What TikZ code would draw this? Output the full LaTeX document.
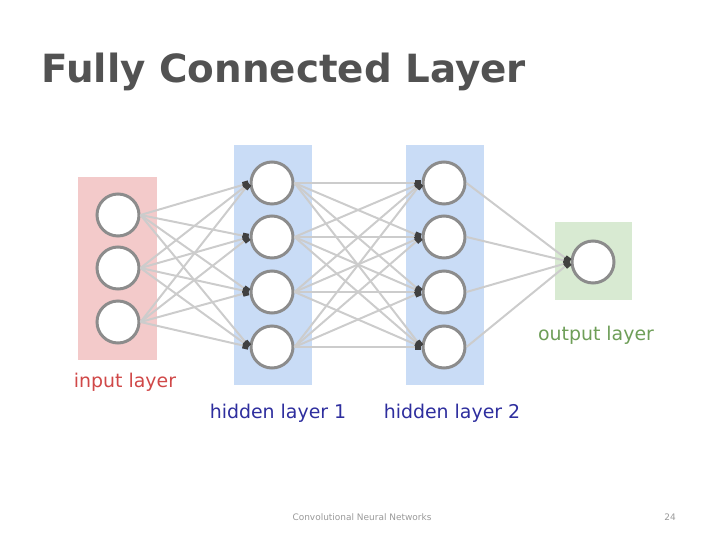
\documentclass[tikz,border=0pt]{standalone}
\usepackage{fontspec}
\setmainfont{DejaVu Sans}
\usetikzlibrary{arrows.meta}
\definecolor{pinkbg}{HTML}{F3CACA}
\definecolor{bluebg}{HTML}{C9DCF6}
\definecolor{greenbg}{HTML}{D8EAD2}
\definecolor{redtxt}{HTML}{D04848}
\definecolor{bluetxt}{HTML}{2E2E9E}
\definecolor{greentxt}{HTML}{6E9E58}
\tikzset{
  neuron/.style={circle,draw=black!45,line width=3pt,fill=white,minimum size=42bp,inner sep=0pt},
  conn/.style={draw=black!20,line width=2pt,-{Square[length=6pt,width=6pt,black!75]},shorten >=1pt},
  lbl/.style={font=\fontsize{19}{22}\selectfont},
}
\begin{document}
\begin{tikzpicture}[x=1bp,y=-1bp]
\useasboundingbox (0,0) rectangle (720,540);
\node[anchor=west,font=\bfseries\fontsize{39}{46}\selectfont,text=black!68] (title) at (38,72) {Fully Connected Layer};
% layer boxes
\fill[pinkbg] (78,177) rectangle (157,360);
\fill[bluebg] (234,145) rectangle (312,385);
\fill[bluebg] (406,145) rectangle (484,385);
\fill[greenbg] (555,222) rectangle (632,300);
% neurons
\foreach \k/\y in {1/215,2/268,3/322} \node[neuron] (i\k) at (118,\y) {};
\foreach \k/\y in {1/183,2/237,3/292,4/347} \node[neuron] (a\k) at (272,\y) {};
\foreach \k/\y in {1/183,2/237,3/292,4/347} \node[neuron] (b\k) at (444,\y) {};
\node[neuron] (o) at (593,262) {};
% connections
\foreach \s in {1,2,3} \foreach \t in {1,2,3,4} \draw[conn] (i\s.east) -- (a\t.west);
\foreach \s in {1,2,3,4} \foreach \t in {1,2,3,4} \draw[conn] (a\s.east) -- (b\t.west);
\foreach \s in {1,2,3,4} \draw[conn] (b\s.east) -- (o.west);
% labels
\node[lbl,text=redtxt] (li) at (125,382) {input layer};
\node[lbl,text=bluetxt] (la) at (278,413) {hidden layer 1};
\node[lbl,text=bluetxt] (lb) at (452,413) {hidden layer 2};
\node[lbl,text=greentxt] (lo) at (596,335) {output layer};
% footer
\node[font=\fontsize{9}{11}\selectfont,text=black!40] (foot) at (362,517) {Convolutional Neural Networks};
\node[font=\fontsize{9}{11}\selectfont,text=black!40] (page) at (670,517) {24};
\end{tikzpicture}
\end{document}
